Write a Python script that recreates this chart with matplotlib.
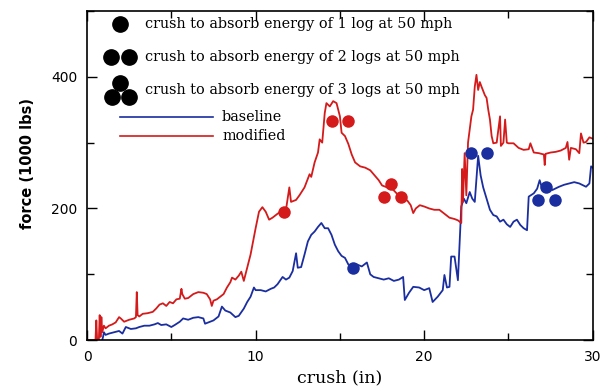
import matplotlib
matplotlib.use("Agg")
import matplotlib.pyplot as plt
from matplotlib.ticker import MultipleLocator

# (crush in, force 1000 lbs)
modified_pts = [
    (0, 0), (0.5, 0), (0.55, 30), (0.6, 0), (0.7, 0), (0.75, 38), (0.8, 5),
    (0.85, 35), (0.9, 12), (1.0, 22), (1.1, 18), (1.3, 22), (1.5, 24), (1.7, 27),
    (1.9, 35), (2.0, 33), (2.2, 28), (2.5, 31), (2.8, 33), (2.9, 35), (2.95, 73),
    (3.0, 38), (3.1, 36), (3.3, 40), (3.6, 41), (3.9, 43), (4.1, 48), (4.3, 54),
    (4.5, 56), (4.7, 52), (4.9, 58), (5.1, 56), (5.3, 62), (5.5, 63), (5.6, 78),
    (5.65, 70), (5.8, 63), (6.0, 64), (6.3, 70), (6.6, 73), (6.9, 72), (7.1, 70),
    (7.3, 62), (7.4, 52), (7.5, 60), (7.7, 62), (7.9, 66), (8.1, 70), (8.3, 80),
    (8.5, 88), (8.6, 95), (8.8, 92), (9.0, 98), (9.15, 104), (9.3, 90), (9.5, 110),
    (9.7, 130), (9.85, 150), (10.0, 170), (10.2, 195), (10.4, 202), (10.6, 195),
    (10.8, 183), (11.0, 186), (11.3, 192), (11.6, 197), (11.8, 198), (12.0, 232),
    (12.1, 210), (12.4, 213), (12.6, 220), (12.9, 232), (13.2, 252), (13.3, 248),
    (13.5, 270), (13.7, 285), (13.8, 305), (13.95, 300), (14.1, 345), (14.2, 360),
    (14.4, 355), (14.6, 363), (14.8, 360), (15.0, 340), (15.1, 315), (15.3, 310),
    (15.5, 298), (15.7, 282), (15.9, 270), (16.2, 264), (16.5, 262), (16.8, 258),
    (17.0, 252), (17.3, 243), (17.5, 235), (17.8, 232), (18.1, 230), (18.4, 222),
    (18.55, 218), (18.8, 214), (19.0, 212), (19.2, 205), (19.35, 193), (19.5, 200),
    (19.74, 205), (20.0, 203), (20.3, 200), (20.6, 198), (20.9, 198), (21.2, 192),
    (21.5, 186), (21.8, 184), (22.0, 182), (22.2, 178), (22.25, 260), (22.3, 210),
    (22.4, 284), (22.5, 220), (22.6, 300), (22.8, 340), (22.9, 350), (23.0, 385),
    (23.1, 403), (23.2, 380), (23.3, 392), (23.4, 385), (23.6, 372), (23.7, 368),
    (23.8, 350), (23.9, 335), (24.0, 310), (24.1, 299), (24.3, 300), (24.5, 340),
    (24.55, 295), (24.7, 300), (24.8, 335), (24.9, 300), (25.0, 299), (25.3, 299),
    (25.6, 292), (25.9, 289), (26.2, 290), (26.3, 299), (26.5, 285), (26.8, 284),
    (27.1, 282), (27.15, 266), (27.2, 283), (27.5, 285), (27.8, 286), (28.1, 288),
    (28.4, 292), (28.5, 301), (28.6, 274), (28.7, 292), (29.0, 290), (29.2, 284),
    (29.3, 314), (29.45, 300), (29.6, 301), (29.8, 308), (30.0, 306),
]
baseline_pts = [
    (0.9, 0), (0.95, 5), (1.0, 12), (1.1, 8), (1.3, 10), (1.6, 12), (1.9, 14),
    (2.1, 10), (2.3, 20), (2.6, 17), (2.9, 18), (3.1, 20), (3.4, 22), (3.7, 22),
    (4.0, 24), (4.2, 26), (4.4, 23), (4.7, 24), (5.0, 20), (5.2, 23), (5.5, 28),
    (5.7, 33), (6.0, 31), (6.3, 34), (6.6, 35), (6.9, 33), (7.0, 25), (7.2, 27),
    (7.5, 30), (7.8, 36), (8.0, 51), (8.2, 45), (8.5, 42), (8.8, 35), (9.0, 37),
    (9.3, 48), (9.5, 58), (9.7, 66), (9.9, 80), (10.0, 76), (10.3, 76), (10.6, 74),
    (10.9, 78), (11.1, 80), (11.3, 85), (11.6, 96), (11.8, 92), (12.0, 95),
    (12.2, 105), (12.4, 132), (12.5, 110), (12.7, 111), (12.9, 130), (13.1, 150),
    (13.3, 160), (13.5, 165), (13.7, 172), (13.9, 178), (14.1, 170), (14.3, 170),
    (14.5, 160), (14.7, 145), (14.9, 135), (15.1, 128), (15.3, 125), (15.5, 115),
    (15.8, 110), (16.0, 115), (16.3, 112), (16.6, 118), (16.8, 100), (17.0, 96),
    (17.3, 94), (17.6, 92), (17.9, 94), (18.2, 90), (18.5, 92), (18.75, 96),
    (18.85, 61), (19.1, 72), (19.35, 81), (19.7, 80), (20.0, 76), (20.3, 79),
    (20.5, 58), (20.8, 66), (21.1, 76), (21.2, 99), (21.35, 80), (21.5, 81),
    (21.6, 127), (21.8, 127), (22.0, 91), (22.2, 203), (22.35, 215), (22.5, 208),
    (22.7, 225), (22.85, 215), (23.0, 210), (23.2, 280), (23.35, 250), (23.5, 232),
    (23.7, 215), (23.9, 198), (24.1, 190), (24.3, 188), (24.5, 180), (24.7, 183),
    (24.9, 176), (25.1, 172), (25.3, 180), (25.5, 183), (25.7, 175), (25.9, 170),
    (26.1, 167), (26.2, 218), (26.5, 223), (26.7, 230), (26.85, 243), (27.0, 230),
    (27.3, 236), (27.6, 228), (28.0, 233), (28.3, 236), (28.6, 238), (28.9, 240),
    (29.2, 238), (29.6, 233), (29.8, 238), (29.9, 264), (30.0, 262),
]

# log-count markers: crush needed to absorb energy of N logs at 50 mph
modified_logs_x = [11.7, 14.55, 15.5, 17.6, 18.05, 18.6]
modified_logs_y = [194, 333, 333, 218, 237, 218]
baseline_logs_x = [15.8, 22.75, 23.75, 26.75, 27.2, 27.75]
baseline_logs_y = [109, 284, 284, 213, 233, 213]

legend_labels = ["crush to absorb energy of 1 log at 50 mph",
                 "crush to absorb energy of 2 logs at 50 mph",
                 "crush to absorb energy of 3 logs at 50 mph"]

RED = "#d41a1a"
BLUE = "#1a2ea0"
SERIF = "DejaVu Serif"

mod_x, mod_y = zip(*modified_pts)
base_x, base_y = zip(*baseline_pts)

fig = plt.figure(figsize=(6.13, 3.91), dpi=100)
ax = fig.add_axes([0.142, 0.130, 0.825, 0.842])

ax.plot(base_x, base_y, color=BLUE, lw=1.3)
ax.plot(mod_x, mod_y, color=RED, lw=1.3)
ax.plot(modified_logs_x, modified_logs_y, "o", color=RED, ms=9, mec="none")
ax.plot(baseline_logs_x, baseline_logs_y, "o", color=BLUE, ms=9, mec="none")

ax.set_xlim(0, 30)
ax.set_ylim(0, 500)
ax.xaxis.set_major_locator(MultipleLocator(10))
ax.xaxis.set_minor_locator(MultipleLocator(5))
ax.yaxis.set_major_locator(MultipleLocator(200))
ax.yaxis.set_minor_locator(MultipleLocator(100))
ax.tick_params(which="both", direction="in", top=True, right=True, width=1)
ax.tick_params(which="major", length=7, labelsize=10, pad=7)
ax.tick_params(which="minor", length=5)
for s in ax.spines.values():
    s.set_linewidth(1.2)

ax.set_xlabel("crush (in)", family=SERIF, fontsize=12.5, labelpad=4)
ax.set_ylabel("force (1000 lbs)", fontweight="bold", fontsize=10.5)
ax.yaxis.set_label_coords(-0.103, 0.538)

# hand-drawn key in the upper left corner
tr = ax.transAxes
ax.plot([0.065], [0.961], "o", color="black", ms=11, transform=tr)
ax.plot([0.047, 0.083], [0.860, 0.860], "o", color="black", ms=11, transform=tr)
ax.plot([0.065, 0.049, 0.083], [0.781, 0.739, 0.739], "o", color="black", ms=11,
        transform=tr)
for lab, yy in zip(legend_labels, [0.961, 0.860, 0.760]):
    ax.text(0.115, yy, lab, transform=tr, family=SERIF, fontsize=10.4,
            va="center", ha="left")
ax.plot([0.065, 0.249], [0.678, 0.678], color=BLUE, lw=1.2, transform=tr)
ax.plot([0.065, 0.249], [0.620, 0.620], color=RED, lw=1.2, transform=tr)
ax.text(0.267, 0.678, "baseline", transform=tr, family=SERIF, fontsize=10.4, va="center")
ax.text(0.267, 0.620, "modified", transform=tr, family=SERIF, fontsize=10.4, va="center")

fig.savefig("out.png", dpi=100)
